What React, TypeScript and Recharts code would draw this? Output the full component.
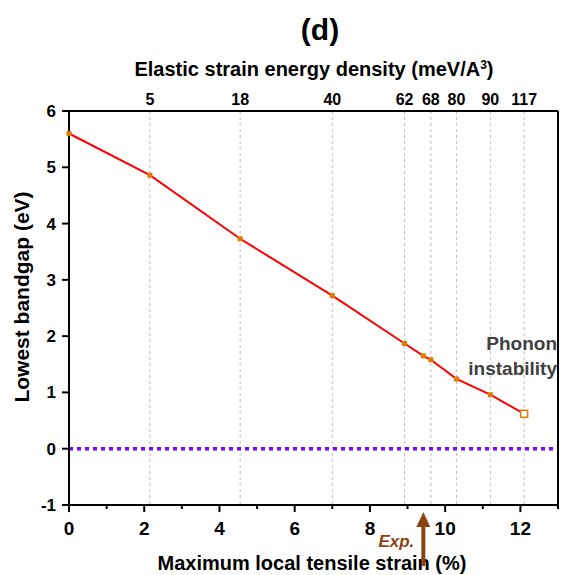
import { LineChart, Line, XAxis, YAxis, CartesianGrid, ReferenceLine, ReferenceDot } from "recharts";

// maximum local tensile strain (%) and lowest bandgap (eV)
const strain = [0, 2.15, 4.55, 7.0, 8.92, 9.42, 9.62, 10.3, 11.2, 12.1];
const bandgap = [5.6, 4.86, 3.73, 2.72, 1.87, 1.65, 1.58, 1.24, 0.96, 0.62];

// top axis: elastic strain energy density at the computed strains
const energyPos = [2.15, 4.55, 7.0, 8.92, 9.62, 10.3, 11.2, 12.1];
const energyLabels = ["5", "18", "40", "62", "68", "80", "90", "117"];

const bottomTicks = [0, 1, 2, 3, 4, 5, 6, 7, 8, 9, 10, 11, 12, 13];
const yTicks = [-1, 0, 1, 2, 3, 4, 5, 6];
const expStrain = 9.42;

const data = strain.map((s, i) => ({ strain: s, gap: bandgap[i] }));

const FONT = "'Liberation Sans', Arial, sans-serif";
const DOT = "#e07b00";
const BROWN = "#8b4513";

function SquareDot(props: any) {
  const { cx, cy, index } = props;
  if (cx == null || cy == null) return null;
  if (index === data.length - 1) {
    return <rect key={index} x={cx - 3.5} y={cy - 3.5} width={7} height={7} fill="#fff" stroke={DOT} strokeWidth={1.5} />;
  }
  return <rect key={index} x={cx - 2.5} y={cy - 2.5} width={5} height={5} fill={DOT} />;
}

function BottomTick(props: any) {
  const { x, y, payload } = props;
  const major = payload.value % 2 === 0;
  return (
    <g>
      <line x1={x} x2={x} y1={y} y2={y + (major ? 7 : 4)} stroke="#000" strokeWidth={2} />
      {major && (
        <text x={x} y={y + 30} textAnchor="middle" fontFamily={FONT} fontWeight="bold" fontSize={19} fill="#000">
          {payload.value}
        </text>
      )}
    </g>
  );
}

function ExpArrow(props: any) {
  const { cx, cy } = props;
  return (
    <g>
      <polygon points={`${cx},${cy + 7} ${cx - 7},${cy + 22} ${cx + 7},${cy + 22}`} fill={BROWN} />
      <rect x={cx - 2} y={cy + 21} width={4} height={40} fill={BROWN} />
      <text x={cx - 9} y={cy + 42} textAnchor="end" fontFamily={FONT} fontStyle="italic" fontWeight="bold" fontSize={17} fill={BROWN}>
        Exp.
      </text>
    </g>
  );
}

export default function App() {
  return (
    <div style={{ position: "absolute", left: 0, top: 0, background: "#fff" }}>
      <LineChart width={565} height={575} data={data} margin={{ top: 0, right: 7, bottom: 0, left: 0 }}>
        <CartesianGrid xAxisId="top" horizontal={false} stroke="#bdbdbd" strokeDasharray="3 3" />
        <XAxis
          xAxisId="top"
          orientation="top"
          dataKey="strain"
          type="number"
          domain={[0, 13]}
          ticks={energyPos}
          tickFormatter={(v: number) => energyLabels[energyPos.indexOf(v)]}
          height={111}
          tickLine={false}
          tickSize={0}
          tickMargin={6}
          axisLine={{ stroke: "#000", strokeWidth: 2 }}
          tick={{ fontFamily: FONT, fontWeight: "bold", fontSize: 16, fill: "#000" }}
          interval={0}
        />
        <XAxis
          xAxisId="bottom"
          orientation="bottom"
          dataKey="strain"
          type="number"
          domain={[0, 13]}
          ticks={bottomTicks}
          height={70}
          tickLine={false}
          tickSize={0}
          tickMargin={0}
          axisLine={{ stroke: "#000", strokeWidth: 2 }}
          tick={<BottomTick />}
          interval={0}
        />
        <YAxis
          type="number"
          domain={[-1, 6]}
          ticks={yTicks}
          width={69}
          tickSize={7}
          tickMargin={6}
          tickLine={{ stroke: "#000", strokeWidth: 2 }}
          axisLine={{ stroke: "#000", strokeWidth: 2 }}
          tick={{ fontFamily: FONT, fontWeight: "bold", fontSize: 17, fill: "#000" }}
          interval={0}
        />
        <ReferenceLine xAxisId="bottom" y={0} stroke="#8000ff" strokeWidth={3.5} strokeDasharray="4 4" />
        <ReferenceLine xAxisId="bottom" x={13} stroke="#000" strokeWidth={2} />
        <Line
          xAxisId="bottom"
          type="linear"
          dataKey="gap"
          stroke="#ff0000"
          strokeWidth={2}
          dot={SquareDot}
          activeDot={false}
          isAnimationActive={false}
        />
        <ReferenceDot xAxisId="bottom" x={expStrain} y={-1} ifOverflow="visible" shape={ExpArrow} />
        <text x={320} y={40} textAnchor="middle" fontFamily={FONT} fontWeight="bold" fontSize={30} fill="#000">
          (d)
        </text>
        <text x={314} y={76} textAnchor="middle" fontFamily={FONT} fontWeight="bold" fontSize={20} fill="#000">
          Elastic strain energy density (meV/A<tspan dy={-7} fontSize={12}>3</tspan><tspan dy={7}>)</tspan>
        </text>
        <text x={312} y={570} textAnchor="middle" fontFamily={FONT} fontWeight="bold" fontSize={20} fill="#000">
          Maximum local tensile strain (%)
        </text>
        <text
          x={29}
          y={297}
          transform="rotate(-90 29 297)"
          textAnchor="middle"
          fontFamily={FONT}
          fontWeight="bold"
          fontSize={21}
          fill="#000"
        >
          Lowest bandgap (eV)
        </text>
        <text x={557} y={350} textAnchor="end" fontFamily={FONT} fontWeight="bold" fontSize={19} fill="#404040">
          Phonon
        </text>
        <text x={557} y={375} textAnchor="end" fontFamily={FONT} fontWeight="bold" fontSize={19} fill="#404040">
          instability
        </text>
      </LineChart>
    </div>
  );
}
